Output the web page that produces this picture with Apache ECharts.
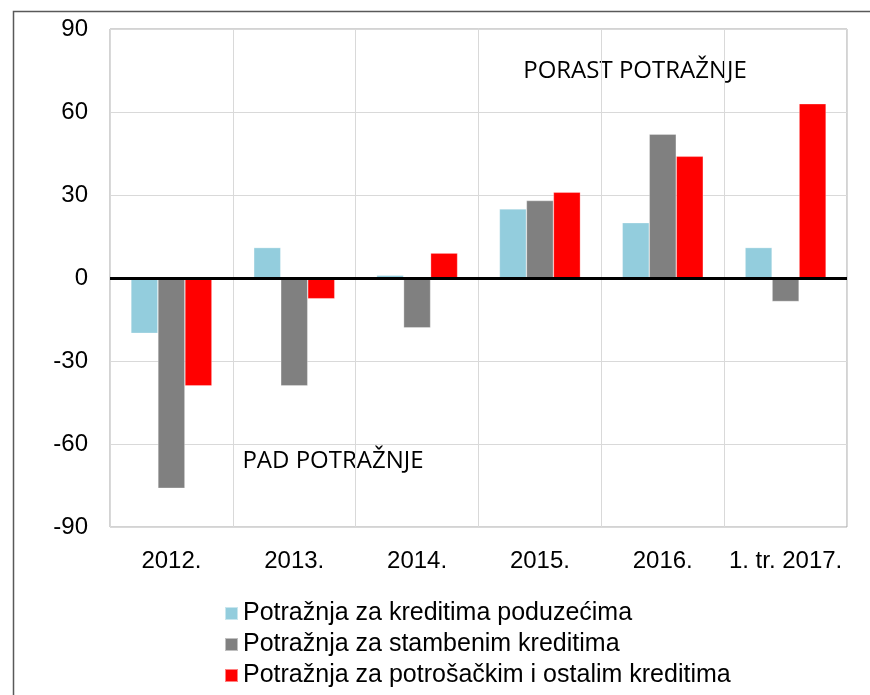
<!DOCTYPE html>
<html>
<head>
<meta charset="utf-8">
<script src="https://cdn.jsdelivr.net/npm/echarts@6/dist/echarts.min.js"></script>
<style>
  html, body { margin: 0; padding: 0; background: #fff; }
  #chart1 { width: 870px; height: 695px; }
</style>
</head>
<body>
<div id="chart1"></div>
<script>
// categories and series values
const categories = ['2012.', '2013.', '2014.', '2015.', '2016.', '1. tr. 2017.'];
const seriesNames = [
  'Potražnja za kreditima poduzećima',
  'Potražnja za stambenim kreditima',
  'Potražnja za potrošačkim i ostalim kreditima'
];
const poduzeca = [-20, 11, 1, 25, 20, 11];
const stambeni = [-76, -39, -18, 28, 52, -8.5];
const potrosacki = [-39, -7.5, 9, 31, 44, 63];
const colors = ['#93cddd', '#808080', '#ff0000'];

const echart1 = echarts.init(document.getElementById('chart1'), null, { renderer: 'canvas' });

function barSeries(name, data, color, withZero) {
  const s = {
    name: name,
    type: 'bar',
    data: data,
    barWidth: 27,
    barGap: '0%',
    itemStyle: { color: color, borderColor: 'rgba(255,255,255,0.5)', borderWidth: 0.6 },
    emphasis: { disabled: true }
  };
  if (withZero) {
    s.markLine = {
      silent: true,
      symbol: 'none',
      label: { show: false },
      lineStyle: { color: '#000', width: 3, type: 'solid' },
      data: [{ yAxis: 0 }]
    };
  }
  return s;
}

const option = {
  backgroundColor: '#fff',
  animation: false,
  textStyle: { fontFamily: 'Liberation Sans, Arial, sans-serif' },
  grid: {
    left: 110, right: 23, top: 29, bottom: 168,
    show: true, borderColor: '#a6a6a6', borderWidth: 1,
    containLabel: false
  },
  legend: {
    orient: 'vertical',
    left: 219, top: 596,
    itemWidth: 13, itemHeight: 13, itemGap: 6,
    icon: 'rect',
    data: seriesNames,
    textStyle: { color: '#000', fontSize: 25, lineHeight: 25, fontFamily: 'Liberation Sans, Arial, sans-serif' }
  },
  xAxis: {
    type: 'category',
    data: categories,
    axisLine: { show: false },
    axisTick: { show: false },
    axisLabel: { color: '#000', fontSize: 24, margin: 22, interval: 0 },
    splitLine: { show: true, interval: 0, lineStyle: { color: '#d9d9d9', width: 1 } }
  },
  yAxis: {
    type: 'value',
    min: -90, max: 90, interval: 30,
    axisLine: { show: false },
    axisTick: { show: false },
    axisLabel: { color: '#000', fontSize: 24, margin: 22 },
    splitLine: { show: true, lineStyle: { color: '#d9d9d9', width: 1 } }
  },
  graphic: [
    { type: 'rect', left: 11, top: 9, z: -1, silent: true,
      shape: { width: 900, height: 720 },
      style: { fill: 'none', stroke: '#595959', lineWidth: 1.5 } },
    { type: 'text', x: 635, y: 71, silent: true,
      style: { text: 'PORAST POTRAŽNJE', fill: '#000', font: '24px "Open Sans"', align: 'center', verticalAlign: 'middle' } },
    { type: 'text', x: 333, y: 461, silent: true,
      style: { text: 'PAD POTRAŽNJE', fill: '#000', font: '24px "Open Sans"', align: 'center', verticalAlign: 'middle' } }
  ],
  series: [
    barSeries(seriesNames[0], poduzeca, colors[0], false),
    barSeries(seriesNames[1], stambeni, colors[1], false),
    barSeries(seriesNames[2], potrosacki, colors[2], true)
  ]
};

echart1.setOption(option);
</script>
</body>
</html>
